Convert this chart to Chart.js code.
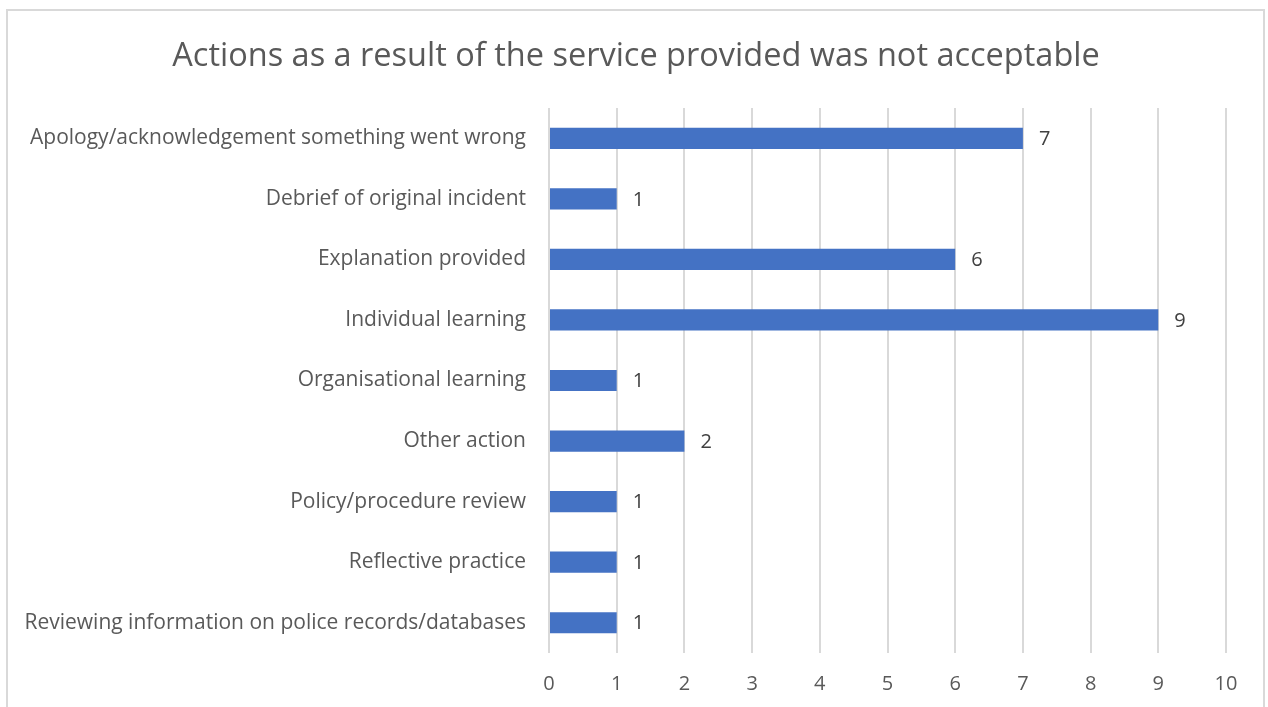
<!DOCTYPE html>
<html>
<head>
<meta charset="utf-8">
<script src="https://cdn.jsdelivr.net/npm/chart.js@4/dist/chart.umd.min.js"></script>
<style>
html,body{margin:0;padding:0;background:#fff;overflow:hidden;}
#frame{position:absolute;left:6px;top:9px;width:1259px;height:740px;border:2px solid #d9d9d9;box-sizing:border-box;}
#wrap{position:absolute;left:0;top:0;width:1268px;height:707px;}
</style>
</head>
<body>
<div id="frame"></div>
<div id="wrap"><canvas id="chartActions"></canvas></div>
<script>
const titleText = "Actions as a result of the service provided was not acceptable";

const categories = [
"Apology/acknowledgement something went wrong",
"Debrief of original incident",
"Explanation provided",
"Individual learning",
"Organisational learning",
"Other action",
"Policy/procedure review",
"Reflective practice",
"Reviewing information on police records/databases"
];

const counts = [7, 1, 6, 9, 1, 2, 1, 1, 1];

const xMin = 0;
const xMax = 10;

const fontFamily = "'Open Sans', 'Noto Sans', sans-serif";

// title centred on the whole canvas, not on the plot area
const pageTitle = {
id: "pageTitle",
afterDraw(chart){
const ctx = chart.ctx;
ctx.save();
ctx.font = "32.5px " + fontFamily;
ctx.fillStyle = "#595959";
ctx.textAlign = "center";
ctx.textBaseline = "alphabetic";
ctx.fillText(titleText, chart.width / 2 + 2, 66);
ctx.restore();
}
};

// value labels just past the end of each bar
const barValueLabels = {
id: "barValueLabels",
afterDatasetsDraw(chart){
const ctx = chart.ctx;
const meta = chart.getDatasetMeta(0);
ctx.save();
ctx.font = "20px " + fontFamily;
ctx.fillStyle = "#404040";
ctx.textAlign = "left";
ctx.textBaseline = "middle";
meta.data.forEach((bar, i) => {
ctx.fillText(String(counts[i]), bar.x + 16, bar.y + 1);
});
ctx.restore();
}
};

new Chart(document.getElementById("chartActions"), {
type: "bar",
data: {
labels: categories,
datasets: [{
data: counts,
backgroundColor: "#4472c4",
borderWidth: 0,
categoryPercentage: 1,
barPercentage: 0.35
}]
},
options: {
indexAxis: "y",
responsive: true,
maintainAspectRatio: false,
animation: false,
layout: { padding: { left: 0, right: 42, top: 108, bottom: 0 } },
plugins: {
legend: { display: false },
tooltip: { enabled: false },
title: { display: false }
},
scales: {
x: {
min: xMin,
max: xMax,
ticks: { stepSize: 1, color: "#595959", padding: 19, font: { family: fontFamily, size: 20 } },
grid: { color: "#d9d9d9", lineWidth: 2, drawTicks: false },
border: { display: false },
afterFit(scale){ scale.height = 54; }
},
y: {
ticks: { color: "#595959", padding: 23, font: { family: fontFamily, size: 21 } },
grid: { display: false, drawTicks: false },
border: { display: false },
afterFit(scale){ scale.width = 549; }
}
}
},
plugins: [barValueLabels, pageTitle]
});
</script>
</body>
</html>
